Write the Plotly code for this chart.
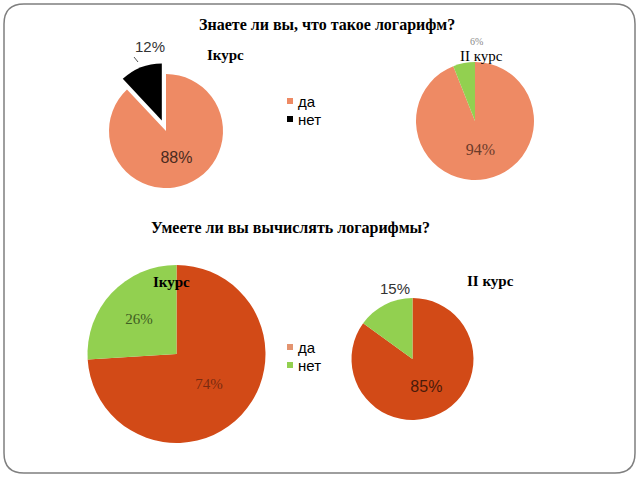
import plotly.graph_objects as go

W, H = 640, 480

labels = ["да", "нет"]
know_course1 = [88, 12]
know_course2 = [94, 6]
calc_course1 = [74, 26]
calc_course2 = [85, 15]

title_top = "Знаете ли вы, что такое логарифм?"
title_bottom = "Умеете ли вы вычислять логарифмы?"
course1 = "Iкурс"
course2 = "II курс"
course1_b = "Iкурс"
course2_b = "II курс"

SALMON = "#EE8A64"
DARK_OR = "#D24A17"
GREEN = "#92D050"
BLACK = "#000000"

SERIF = "Liberation Serif, Times New Roman, serif"
SANS = "Liberation Sans, Arial, sans-serif"


def px_dom(cx, cy, half):
    return dict(x=[(cx - half) / W, (cx + half) / W],
                y=[1 - (cy + half) / H, 1 - (cy - half) / H])


fig = go.Figure()


def add_pie(values, colors, dom, family, size, colors_txt, pull=None, inside_only_first=True):
    tmpl = ["%{percent:.0%}", ""] if inside_only_first else "%{percent:.0%}"
    font = dict(family=family, size=size, color=colors_txt)
    fig.add_trace(go.Pie(
        labels=labels, values=values, sort=False, direction="clockwise", rotation=0,
        pull=pull if pull else 0,
        marker=dict(colors=colors, line=dict(width=0)),
        domain=dom, texttemplate=tmpl, textposition="inside",
        insidetextorientation="horizontal",
        textfont=font, insidetextfont=font,
        showlegend=False, hoverinfo="label+percent"))


# Top-left: I курс (exploded "нет")
add_pie(know_course1, [SALMON, BLACK], px_dom(166, 131, 68.4), SANS, 16,
        ["#4a2a1e", "#333333"], pull=[0, 0.2])
# Top-right: II курс
add_pie(know_course2, [SALMON, GREEN], px_dom(475, 121, 59), SERIF, 16,
        ["#6b3a2a", "#8a8a8a"])
# Bottom-left: I курс
add_pie(calc_course1, [DARK_OR, GREEN], px_dom(176.5, 354, 89), SERIF, 15,
        ["#7a2a10", "#3f5e22"], inside_only_first=False)
# Bottom-right: II курс
add_pie(calc_course2, [DARK_OR, GREEN], px_dom(412.5, 359, 61), SANS, 16,
        ["#4a1a0a", "#333333"])


def ann(text, x, y, size, family, color="#000000", bold=False, xanchor="center"):
    if bold:
        text = "<b>" + text + "</b>"
    fig.add_annotation(text=text, x=x / W, y=1 - y / H, xref="paper", yref="paper",
                       showarrow=False, xanchor=xanchor, yanchor="middle",
                       font=dict(size=size, family=family, color=color))


ann(title_top, 327, 25, 16, SERIF, bold=True)
ann(title_bottom, 290, 228, 16, SERIF, bold=True)
ann(course1, 205, 55, 15, SERIF, bold=True, xanchor="left")
ann(course2, 458, 56, 15, SERIF, bold=False, xanchor="left")
ann(course1_b, 151, 282, 15, SERIF, bold=True, xanchor="left")
ann(course2_b, 465, 281, 15, SERIF, bold=True, xanchor="left")

# outside percentage labels
ann(f"{know_course1[1]}%", 150, 47, 15, SANS, color="#333333")
ann(f"{know_course2[1]}%", 476, 41, 10, SERIF, color="#8a8a8a")
ann(f"{calc_course2[1]}%", 395, 288, 15, SANS, color="#333333")

# Legends (swatch + text)
legend_sets = [
    (290, [101, 119], [SALMON, BLACK]),
    (290, [347, 365], ["#E39470", GREEN]),
]
for lx, ys, cols in legend_sets:
    for lab, ly, col in zip(labels, ys, cols):
        fig.add_shape(type="rect", xref="paper", yref="paper",
                      x0=(lx - 3) / W, x1=(lx + 3) / W,
                      y0=1 - (ly + 3) / H, y1=1 - (ly - 3) / H,
                      fillcolor=col, line=dict(width=0))
        ann(lab, lx + 6, ly, 15, SANS, color="#000000", xanchor="left")

# leader line for 12%
fig.add_shape(type="line", xref="paper", yref="paper",
              x0=134 / W, y0=1 - 57 / H, x1=138 / W, y1=1 - 62 / H,
              line=dict(color="#555555", width=1))

# rounded frame
x0, x1, y0, y1, r = 4, 635, 4, 473, 20


def P(x, y):
    return f"{x / W:.5f},{1 - y / H:.5f}"


path = (f"M {P(x0 + r, y0)} L {P(x1 - r, y0)} Q {P(x1, y0)} {P(x1, y0 + r)} "
        f"L {P(x1, y1 - r)} Q {P(x1, y1)} {P(x1 - r, y1)} "
        f"L {P(x0 + r, y1)} Q {P(x0, y1)} {P(x0, y1 - r)} "
        f"L {P(x0, y0 + r)} Q {P(x0, y0)} {P(x0 + r, y0)} Z")
fig.add_shape(type="path", xref="paper", yref="paper", path=path,
              line=dict(color="#7f7f7f", width=1.5), layer="below")

fig.update_layout(width=W, height=H, margin=dict(l=0, r=0, t=0, b=0),
                  paper_bgcolor="white", plot_bgcolor="white", showlegend=False)

fig.write_html("out.html")
